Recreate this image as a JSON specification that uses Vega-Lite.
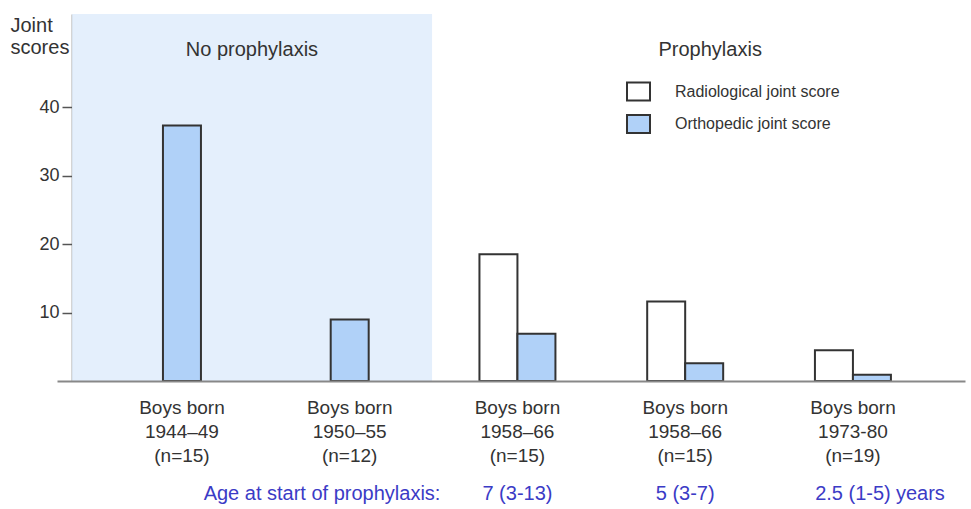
{
  "$schema": "https://vega.github.io/schema/vega-lite/v6.json",
  "width": 908,
  "height": 367,
  "autosize": {"type": "none"},
  "padding": {"left": 57, "top": 14, "right": 6, "bottom": 128},
  "background": "white",
  "config": {"view": {"stroke": null}, "font": "Liberation Sans"},
  "datasets": {
    "scores": [
      {"cohort": "1944–49", "era": "No prophylaxis", "type": "Orthopedic joint score", "score": 37.3},
      {"cohort": "1950–55", "era": "No prophylaxis", "type": "Orthopedic joint score", "score": 9.0},
      {"cohort": "1958–66 A", "era": "Prophylaxis", "type": "Radiological joint score", "score": 18.5},
      {"cohort": "1958–66 A", "era": "Prophylaxis", "type": "Orthopedic joint score", "score": 6.9},
      {"cohort": "1958–66 B", "era": "Prophylaxis", "type": "Radiological joint score", "score": 11.6},
      {"cohort": "1958–66 B", "era": "Prophylaxis", "type": "Orthopedic joint score", "score": 2.6},
      {"cohort": "1973-80", "era": "Prophylaxis", "type": "Radiological joint score", "score": 4.5},
      {"cohort": "1973-80", "era": "Prophylaxis", "type": "Orthopedic joint score", "score": 0.9}
    ],
    "cohorts": [
      {"cohort": "1944–49", "label": "Boys born|1944–49|(n=15)", "age": ""},
      {"cohort": "1950–55", "label": "Boys born|1950–55|(n=12)", "age": ""},
      {"cohort": "1958–66 A", "label": "Boys born|1958–66|(n=15)", "age": "7 (3-13)"},
      {"cohort": "1958–66 B", "label": "Boys born|1958–66|(n=15)", "age": "5 (3-7)"},
      {"cohort": "1973-80", "label": "Boys born|1973-80|(n=19)", "age": "2.5 (1-5)"}
    ],
    "notes": [
      {"cohort": "1958–66 A", "role": "prefix", "text": "Age at start of prophylaxis:"},
      {"cohort": "1973-80", "role": "suffix", "text": "years"},
      {"cohort": "1944–49", "role": "header1", "text": "No prophylaxis"},
      {"cohort": "1958–66 B", "role": "header2", "text": "Prophylaxis"}
    ]
  },
  "layer": [
    {
      "data": {"name": "notes"},
      "transform": [{"filter": "datum.role === 'header1'"}],
      "mark": {"type": "rect", "color": "#e4effc"},
      "encoding": {
        "x": {"datum": "1944–49", "type": "nominal", "bandPosition": -0.946, "title": null,
              "scale": {"domain": ["1944–49", "1950–55", "1958–66 A", "1958–66 B", "1973-80"], "paddingInner": 0.547, "paddingOuter": 0.48, "align": 0.54},
              "axis": {"labels": false, "ticks": false, "title": null, "domainColor": "#888", "domainWidth": 2, "grid": false}},
        "x2": {"datum": "1950–55", "bandPosition": 1.584},
        "y": {"datum": 0, "type": "quantitative", "title": ["Joint", "scores"],
              "scale": {"domain": [0, 53.6], "nice": false, "zero": false},
              "axis": {"values": [10, 20, 30, 40], "offset": -15, "tickSize": 10, "labelFontSize": 18, "labelPadding": 3, "labelColor": "#333", "domainColor": "#555", "tickColor": "#555", "domainWidth": 1.5, "tickWidth": 1.5, "grid": false, "titleAngle": 0, "titleAlign": "left", "titleBaseline": "alphabetic", "titleX": -62, "titleY": 17, "titleFontSize": 20, "titleFontWeight": "normal", "titleColor": "#333", "titleLineHeight": 22}},
        "y2": {"datum": 53.6}
      }
    },
    {
      "data": {"name": "scores"},
      "transform": [{"filter": "datum.era === 'No prophylaxis'"}],
      "mark": {"type": "bar", "stroke": "#333", "strokeWidth": 2, "width": {"band": 0.5}},
      "encoding": {
        "x": {"field": "cohort", "type": "nominal", "title": null},
        "y": {"field": "score", "type": "quantitative", "title": ["Joint", "scores"]},
        "fill": {"field": "type", "type": "nominal",
                 "scale": {"domain": ["Radiological joint score", "Orthopedic joint score"], "range": ["#ffffff", "#b0d1f8"]},
                 "legend": {"orient": "none", "legendX": 569, "legendY": 65, "title": null, "symbolType": "M-1,-0.78H1V0.78H-1Z", "symbolSize": 529, "symbolStrokeColor": "#333", "symbolStrokeWidth": 2, "labelFontSize": 16, "labelColor": "#333", "labelOffset": 24, "labelLimit": 400, "rowPadding": 5.5, "padding": 0}}
      }
    },
    {
      "data": {"name": "scores"},
      "transform": [{"filter": "datum.era === 'Prophylaxis'"}],
      "mark": {"type": "bar", "stroke": "#333", "strokeWidth": 2},
      "encoding": {
        "x": {"field": "cohort", "type": "nominal", "title": null},
        "xOffset": {"field": "type", "type": "nominal", "scale": {"domain": ["Radiological joint score", "Orthopedic joint score"], "paddingInner": 0, "paddingOuter": 0}},
        "y": {"field": "score", "type": "quantitative", "title": ["Joint", "scores"]},
        "fill": {"field": "type", "type": "nominal"}
      }
    },
    {
      "data": {"name": "cohorts"},
      "mark": {"type": "text", "lineBreak": "|", "baseline": "alphabetic", "align": "center", "fontSize": 19, "lineHeight": 24, "color": "#333"},
      "encoding": {
        "x": {"field": "cohort", "type": "nominal", "title": null},
        "y": {"datum": -4.82, "type": "quantitative", "title": ["Joint", "scores"]},
        "text": {"field": "label"}
      }
    },
    {
      "data": {"name": "cohorts"},
      "mark": {"type": "text", "baseline": "alphabetic", "align": "center", "fontSize": 20, "color": "#3b3bc6"},
      "encoding": {
        "x": {"field": "cohort", "type": "nominal", "title": null},
        "y": {"datum": -17.4, "type": "quantitative", "title": ["Joint", "scores"]},
        "text": {"field": "age"}
      }
    },
    {
      "data": {"name": "notes"},
      "transform": [{"filter": "datum.role === 'prefix'"}],
      "mark": {"type": "text", "baseline": "alphabetic", "align": "right", "dx": -77, "fontSize": 20, "color": "#3b3bc6"},
      "encoding": {
        "x": {"field": "cohort", "type": "nominal", "title": null},
        "y": {"datum": -17.4, "type": "quantitative", "title": ["Joint", "scores"]},
        "text": {"field": "text"}
      }
    },
    {
      "data": {"name": "notes"},
      "transform": [{"filter": "datum.role === 'suffix'"}],
      "mark": {"type": "text", "baseline": "alphabetic", "align": "left", "dx": 43, "fontSize": 20, "color": "#3b3bc6"},
      "encoding": {
        "x": {"field": "cohort", "type": "nominal", "title": null},
        "y": {"datum": -17.4, "type": "quantitative", "title": ["Joint", "scores"]},
        "text": {"field": "text"}
      }
    },
    {
      "data": {"name": "notes"},
      "transform": [{"filter": "datum.role === 'header1'"}],
      "mark": {"type": "text", "baseline": "alphabetic", "align": "center", "dx": 70, "fontSize": 20, "color": "#333"},
      "encoding": {
        "x": {"field": "cohort", "type": "nominal", "title": null},
        "y": {"datum": 47.5, "type": "quantitative", "title": ["Joint", "scores"]},
        "text": {"field": "text"}
      }
    },
    {
      "data": {"name": "notes"},
      "transform": [{"filter": "datum.role === 'header2'"}],
      "mark": {"type": "text", "baseline": "alphabetic", "align": "center", "dx": 25, "fontSize": 20, "color": "#333"},
      "encoding": {
        "x": {"field": "cohort", "type": "nominal", "title": null},
        "y": {"datum": 47.5, "type": "quantitative", "title": ["Joint", "scores"]},
        "text": {"field": "text"}
      }
    }
  ]
}
